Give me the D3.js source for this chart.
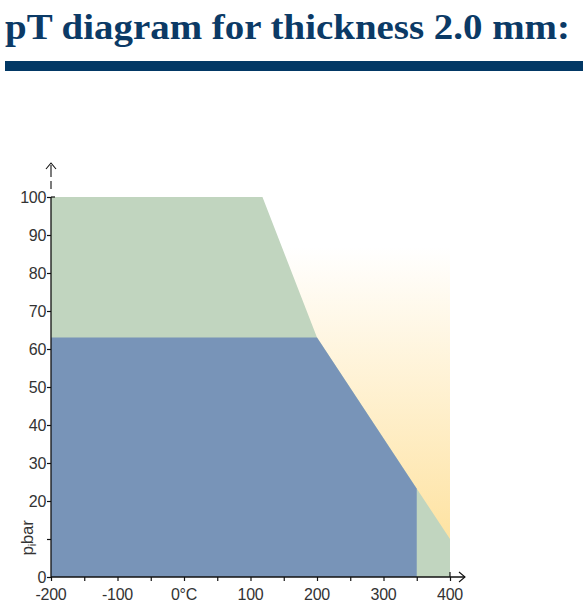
<!DOCTYPE html>
<html><head><meta charset="utf-8">
<script src="https://cdn.jsdelivr.net/npm/d3@7"></script>
<style>
html,body{margin:0;padding:0;background:#fff;}
svg{display:block;}
</style></head>
<body>
<svg id="c" width="583" height="608"></svg>
<script>
// ---- data ----
const titleText = "pT diagram for thickness 2.0 mm:";
const xTickValues = [-200, -150, -100, -50, 0, 50, 100, 150, 200, 250, 300, 350, 400];
const xLabelValues = [-200, -100, 0, 100, 200, 300, 400];
const xLabels = ["-200", "-100", "0°C", "100", "200", "300", "400"];
const yTickValues = [0, 10, 20, 30, 40, 50, 60, 70, 80, 90, 100];
const yLabels = ["0", "", "20", "30", "40", "50", "60", "70", "80", "90", "100"];
// upper (green) limit curve: temperature / pressure
const greenT = [-200, -200, 118, 200, 400, 400];
const greenP = [0, 100, 100, 63, 10, 0];
// lower (blue) region
const blueT = [-200, -200, 200, 350, 350];
const blueP = [0, 63, 63, 23.25, 0];
// yellow (caution) region extent
const yellowT = [-200, 400];
const yellowP = [0, 87];

// ---- drawing ----
const svg = d3.select("#c");
const x = d3.scaleLinear().domain([-200, 400]).range([51, 450]);
const y = d3.scaleLinear().domain([0, 100]).range([577, 197]);

// title
svg.append("text")
  .attr("x", 5).attr("y", 39)
  .attr("font-family", "'Liberation Serif', serif")
  .attr("font-weight", "bold")
  .attr("font-size", 35)
  .attr("fill", "#0b3a66")
  .attr("textLength", 565)
  .attr("lengthAdjust", "spacingAndGlyphs")
  .text(titleText);
svg.append("rect").attr("x", 5).attr("y", 61).attr("width", 578).attr("height", 10).attr("fill", "#023865");

// gradient
const defs = svg.append("defs");
const g = defs.append("linearGradient").attr("id", "yg")
  .attr("x1", 0).attr("y1", 0).attr("x2", 0).attr("y2", 1);
g.append("stop").attr("offset", "0").attr("stop-color", "#ffffff");
g.append("stop").attr("offset", "1").attr("stop-color", "#fedf96");

svg.append("rect")
  .attr("x", x(yellowT[0])).attr("y", y(yellowP[1]))
  .attr("width", x(yellowT[1]) - x(yellowT[0]))
  .attr("height", y(yellowP[0]) - y(yellowP[1]))
  .attr("fill", "url(#yg)");

const line = d3.line().x(d => x(d[0])).y(d => y(d[1]));
svg.append("path")
  .attr("d", line(greenT.map((t, i) => [t, greenP[i]])) + "Z")
  .attr("fill", "#c1d5bf");
svg.append("path")
  .attr("d", line(blueT.map((t, i) => [t, blueP[i]])) + "Z")
  .attr("fill", "#7894b8");

// axes
const axisColor = "#111";
const fontFam = "'Liberation Sans', Arial, sans-serif";
const labelColor = "#333";

const xAxis = svg.append("g").attr("transform", `translate(0,${y(0)})`)
  .call(d3.axisBottom(x).tickValues(xTickValues).tickSize(4).tickFormat(""));
xAxis.select(".domain").remove();
xAxis.selectAll(".tick line").attr("stroke", axisColor).attr("stroke-width", 1.2);
xAxis.append("line").attr("x1", x(-200)).attr("x2", x(400) + 15).attr("y1", 0).attr("y2", 0)
  .attr("stroke", axisColor).attr("stroke-width", 1.3);
xAxis.append("line").attr("x1", x(400)).attr("x2", x(400)).attr("y1", -5).attr("y2", 0)
  .attr("stroke", axisColor).attr("stroke-width", 1.2);
xAxis.append("path").attr("d", `M${x(400) + 9},-5 L${x(400) + 15},0 L${x(400) + 9},5`)
  .attr("fill", "none").attr("stroke", axisColor).attr("stroke-width", 1.1);

svg.append("g").selectAll("text").data(xLabelValues).join("text")
  .attr("x", d => x(d)).attr("y", 600)
  .attr("text-anchor", "middle")
  .attr("font-family", fontFam).attr("font-size", 16)
  .attr("letter-spacing", "-0.3")
  .attr("fill", labelColor)
  .text((d, i) => xLabels[i]);

const yAxis = svg.append("g").attr("transform", `translate(${x(-200)},0)`)
  .call(d3.axisLeft(y).tickValues(yTickValues).tickSize(4).tickFormat(""));
yAxis.select(".domain").remove();
yAxis.selectAll(".tick line").attr("stroke", axisColor).attr("stroke-width", 1.2);
yAxis.append("line").attr("x1", 0).attr("x2", 0).attr("y1", y(0)).attr("y2", y(100))
  .attr("stroke", axisColor).attr("stroke-width", 1.3);
yAxis.append("line").attr("x1", 0).attr("x2", 4).attr("y1", y(100)).attr("y2", y(100))
  .attr("stroke", axisColor).attr("stroke-width", 1.2);
yAxis.append("line").attr("x1", 0).attr("x2", 0).attr("y1", y(100)).attr("y2", y(100) - 32)
  .attr("stroke", axisColor).attr("stroke-width", 1.1).attr("stroke-dasharray", "0,8,8,4,12");
yAxis.append("path").attr("d", `M-5,${y(100) - 28} L0,${y(100) - 34} L5,${y(100) - 28}`)
  .attr("fill", "none").attr("stroke", axisColor).attr("stroke-width", 1.1);

svg.append("g").selectAll("text").data(yTickValues).join("text")
  .attr("x", 46).attr("y", d => y(d) + 5.5)
  .attr("text-anchor", "end")
  .attr("font-family", fontFam).attr("font-size", 16)
  .attr("letter-spacing", "-0.3")
  .attr("fill", labelColor)
  .text((d, i) => yLabels[i]);

// y axis title
const yt = svg.append("text")
  .attr("transform", `translate(33,538) rotate(-90)`)
  .attr("text-anchor", "middle")
  .attr("font-family", fontFam).attr("font-size", 17)
  .attr("letter-spacing", "-0.3")
  .attr("fill", labelColor);
yt.append("tspan").text("p");
yt.append("tspan").attr("font-size", 11).attr("dy", 3).text("i");
yt.append("tspan").attr("dy", -3).text("bar");
</script>
</body></html>
